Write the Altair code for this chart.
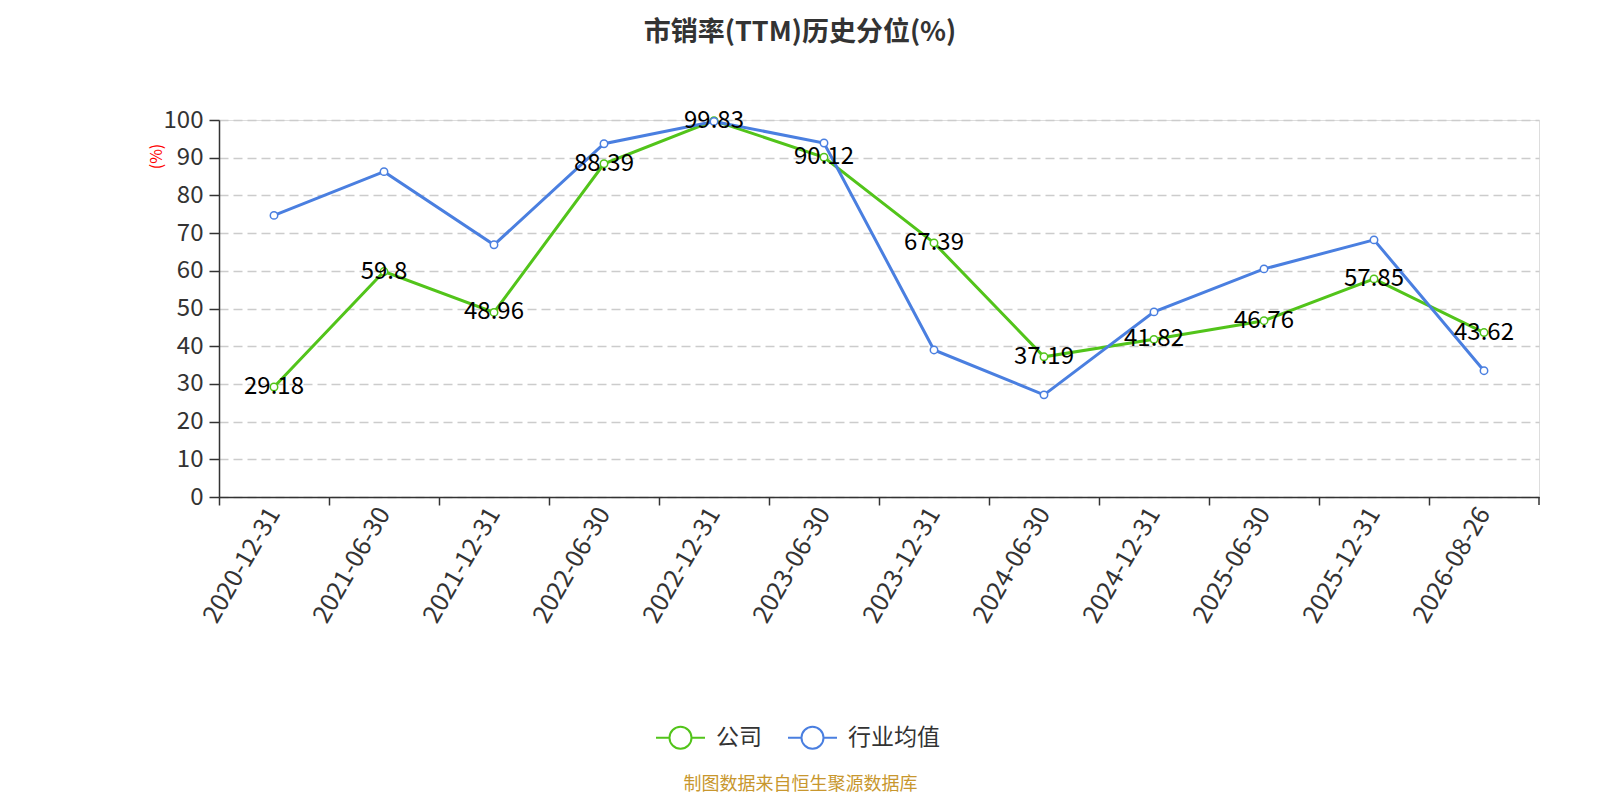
import altair as alt
import pandas as pd

dates = ["2020-12-31", "2021-06-30", "2021-12-31", "2022-06-30", "2022-12-31", "2023-06-30",
         "2023-12-31", "2024-06-30", "2024-12-31", "2025-06-30", "2025-12-31", "2026-08-26"]
company = [29.18, 59.8, 48.96, 88.39, 99.83, 90.12, 67.39, 37.19, 41.82, 46.76, 57.85, 43.62]
industry = [74.7, 86.3, 66.9, 93.7, 99.6, 93.9, 39.0, 27.1, 49.1, 60.5, 68.2, 33.5]
series_names = ["公司", "行业均值"]
colors = ["#52c41a", "#4a7fe0"]

rows = []
for d, v in zip(dates, company):
    rows.append({"date": d, "value": v, "series": series_names[0], "label": f"{v:g}"})
for d, v in zip(dates, industry):
    rows.append({"date": d, "value": v, "series": series_names[1], "label": ""})
df = pd.DataFrame(rows)

FONT = "Noto Sans CJK SC"

x_enc = alt.X(
    "date:O",
    sort=dates,
    scale=alt.Scale(type="band", paddingInner=0, paddingOuter=0),
    axis=alt.Axis(
        title="制图数据来自恒生聚源数据库",
        titleColor="#c8972e",
        titleFontSize=18,
        titleFontWeight="normal",
        titleFont=FONT,
        titleX=581,
        titleY=287,
        titleAlign="center",
        titleBaseline="middle",
        labelAngle=300,
        labelAlign="right",
        labelBaseline="middle",
        labelFontSize=25,
        labelColor="#333333",
        labelFont=FONT,
        labelPadding=4,
        bandPosition=0,
        tickSize=8,
        tickColor="#333333",
        tickWidth=1.5,
        domainColor="#333333",
        domainWidth=1.5,
        grid=False,
    ),
)
y_enc = alt.Y(
    "value:Q",
    scale=alt.Scale(domain=[0, 100], nice=False, zero=True),
    axis=alt.Axis(
        title="(%)",
        titleColor="#ff0000",
        titleFontSize=16,
        titleFontWeight="normal",
        titleFont=FONT,
        titleAngle=270,
        titleX=-63,
        titleY=36,
        titleAlign="center",
        titleBaseline="middle",
        values=list(range(0, 101, 10)),
        labelFontSize=24,
        labelColor="#333333",
        labelFont=FONT,
        labelPadding=6,
        tickSize=10,
        tickColor="#333333",
        tickWidth=1.5,
        domainColor="#333333",
        domainWidth=1.5,
        grid=True,
        gridColor="#cccccc",
        gridDash=[9, 5],
        gridWidth=1.5,
    ),
)
color_enc = alt.Color(
    "series:N",
    sort=series_names,
    scale=alt.Scale(domain=series_names, range=colors),
    legend=alt.Legend(
        title=None,
        orient="none",
        legendX=436,
        legendY=592,
        direction="horizontal",
        symbolType="M-1,0L-0.45,0M0.45,0L1,0M0.45,0A0.45,0.45,0,1,1,-0.45,0A0.45,0.45,0,1,1,0.45,0Z",
        symbolSize=2400,
        symbolStrokeWidth=2,
        symbolFillColor="white",
        labelFontSize=23,
        labelColor="#333333",
        labelFont=FONT,
        labelOffset=10,
        columnPadding=22,
    ),
)

base = alt.Chart(df).encode(x=x_enc, y=y_enc)

lines = base.mark_line(strokeWidth=3).encode(color=color_enc)
points = base.mark_point(filled=False, fill="white", size=55, strokeWidth=1.5, opacity=1).encode(
    color=alt.Color("series:N", sort=series_names, scale=alt.Scale(domain=series_names, range=colors), legend=None)
)
labels = base.mark_text(fontSize=24, font=FONT, color="#000000", baseline="middle", align="center").encode(
    text="label:N"
)
end_tick = alt.Chart(pd.DataFrame({"t": [0]})).mark_rule(color="#333333", strokeWidth=1.5).encode(
    x=alt.value(1320), y=alt.value(377), y2=alt.value(385)
)

chart = (
    alt.layer(lines, points, labels, end_tick)
    .properties(
        width=1320,
        height=377,
        title=alt.TitleParams(
            text="市销率(TTM)历史分位(%)",
            fontSize=27,
            fontWeight="bold",
            font=FONT,
            color="#333333",
            anchor="middle",
            dx=-79,
            offset=34,
            baseline="bottom",
        ),
        autosize=alt.AutoSizeParams(type="none"),
        padding={"left": 211, "top": 112, "right": 40, "bottom": 300},
    )
    .configure_view(strokeWidth=0, stroke="transparent")
    .configure(background="white")
)

chart.save("out.html", embed_options={"renderer": "svg", "actions": False})
